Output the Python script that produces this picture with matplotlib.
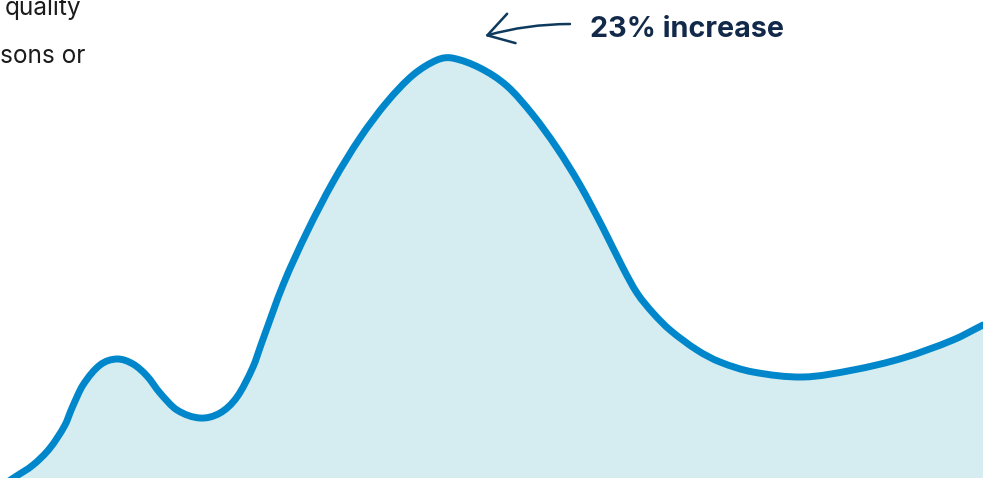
import matplotlib
matplotlib.use("Agg")
import matplotlib.pyplot as plt
from matplotlib.path import Path
from matplotlib.patches import PathPatch
import numpy as np

# Curve (x position, pixel row of the line centre)
x_pos = [0, 15, 33, 50, 65, 72, 83, 100, 117, 133, 147, 160, 177, 200, 220, 237,
         253, 262, 283, 307, 333, 360, 387, 413, 437, 452, 480, 507, 533, 557,
         580, 603, 623, 637, 653, 670, 697, 720, 753, 803, 853, 903, 953, 983]
y_px = [487, 477, 465, 448, 425, 408, 385, 365, 359, 364, 376, 393, 410, 418, 413, 397,
        367, 342, 285, 232, 182, 138, 102, 75, 60, 58, 68, 86, 115, 148,
        185, 228, 268, 293, 313, 330, 350, 362, 372, 377, 370, 358, 340, 325]
H = 478
values = [H - y for y in y_px]

annotation_label = "23% increase"
left_lines = ["quality", "sons or"]

LINE = "#0087CB"
FILL = "#D5EDF0"
NAVY = "#12294A"
ARROW = "#0E3A5E"
TEXT = "#1B1B1B"


def smooth_path(xs, ys):
    """Cubic Hermite curve y(x) through the points, as Bezier segments."""
    x = np.asarray(xs, float)
    y = np.asarray(ys, float)
    n = len(x)
    m = np.empty(n)
    m[0] = (y[1] - y[0]) / (x[1] - x[0])
    m[-1] = (y[-1] - y[-2]) / (x[-1] - x[-2])
    for i in range(1, n - 1):
        m[i] = (y[i + 1] - y[i - 1]) / (x[i + 1] - x[i - 1])
    verts = [(x[0], y[0])]
    codes = [Path.MOVETO]
    for i in range(n - 1):
        h = x[i + 1] - x[i]
        verts += [(x[i] + h / 3, y[i] + m[i] * h / 3),
                  (x[i + 1] - h / 3, y[i + 1] - m[i + 1] * h / 3),
                  (x[i + 1], y[i + 1])]
        codes += [Path.CURVE4] * 3
    return verts, codes


fig = plt.figure(figsize=(9.83, 4.78), dpi=100)
ax = fig.add_axes([0, 0, 1, 1])
ax.set_xlim(0, 983)
ax.set_ylim(0, H)
ax.axis("off")

verts, codes = smooth_path(x_pos, values)

fill_verts = list(verts) + [(x_pos[-1], -40), (x_pos[0], -40), verts[0]]
fill_codes = list(codes) + [Path.LINETO, Path.LINETO, Path.CLOSEPOLY]
ax.add_patch(PathPatch(Path(fill_verts, fill_codes), facecolor=FILL,
                       edgecolor="none", linewidth=0))
ax.add_patch(PathPatch(Path(verts, codes), facecolor="none", edgecolor=LINE,
                       linewidth=5.0, joinstyle="round", capstyle="round"))

ax.text(590, H - 37, annotation_label, fontsize=20.7, fontweight="bold",
        family=["Inter", "DejaVu Sans"], color=NAVY, ha="left", va="baseline")

ax.annotate("", xy=(485, H - 36), xytext=(570, H - 24),
            arrowprops=dict(arrowstyle="->,head_length=0.9,head_width=0.55",
                            connectionstyle="arc3,rad=0.07", color=ARROW,
                            lw=1.8, mutation_scale=20, shrinkA=0, shrinkB=0))

ax.text(81, H - 15, left_lines[0], fontsize=17.6, family=["Inter", "DejaVu Sans"],
        color=TEXT, ha="right", va="baseline")
ax.text(85, H - 63, left_lines[1], fontsize=17.6, family=["Inter", "DejaVu Sans"],
        color=TEXT, ha="right", va="baseline")

fig.savefig("out.png", dpi=100)
